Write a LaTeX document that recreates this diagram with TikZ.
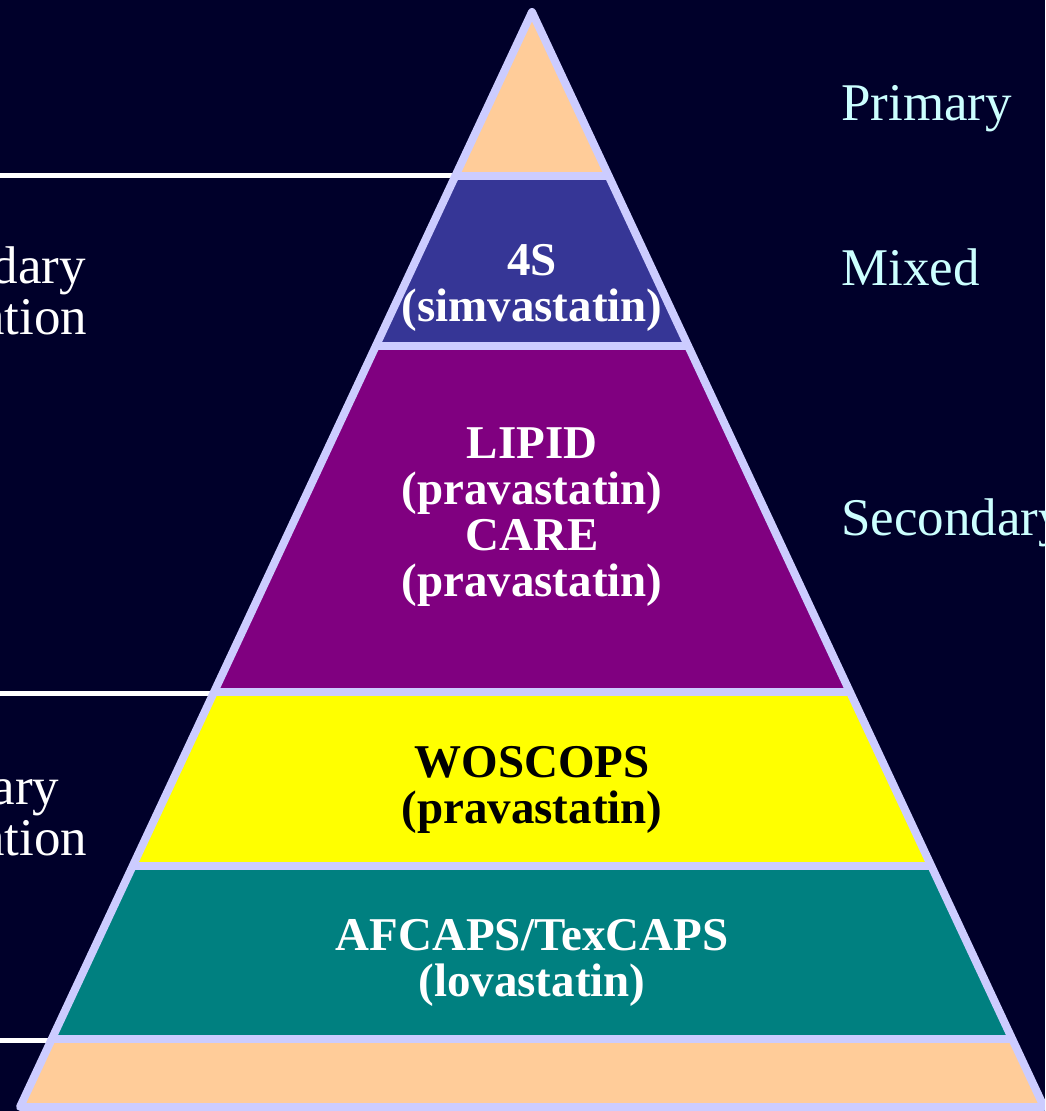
\documentclass[tikz,border=0pt]{standalone}
\usepackage{fontspec}
\setmainfont{Liberation Serif}
\usetikzlibrary{calc}
\definecolor{bg}{RGB}{0,0,42}
\definecolor{edge}{HTML}{CCCCFF}
\definecolor{peach}{HTML}{FFCC99}
\definecolor{navyband}{HTML}{363696}
\definecolor{purpleband}{HTML}{800080}
\definecolor{yellowband}{HTML}{FFFF00}
\definecolor{tealband}{HTML}{008080}
\definecolor{cyanlabel}{HTML}{CCFFFF}
\tikzset{
  layertext/.style={anchor=base, align=center, inner sep=0pt,
    font=\bfseries\fontsize{47}{46}\selectfont},
  sidelabel/.style={inner sep=0pt, font=\fontsize{53}{51}\selectfont},
  levelline/.style={draw=white, line width=5pt},
  separator/.style={draw=edge, line width=8pt},
}
\begin{document}
\begin{tikzpicture}[x=1pt, y=-1pt]
\useasboundingbox (0,0) rectangle (1045,1111);
\fill[bg] (0,0) rectangle (1045,1111);
\clip (0,0) rectangle (1045,1111);
\coordinate (origin) at (0,0);
\coordinate (apex) at (532,12);
\coordinate (bl) at (20,1107);
\coordinate (br) at (1044,1107);
% layers
\begin{scope}
  \clip (apex) -- (bl) -- (br) -- cycle;
  \fill[peach] (0,0) rectangle (1045,176);
  \fill[navyband] (0,176) rectangle (1045,346);
  \fill[purpleband] (0,346) rectangle (1045,692);
  \fill[yellowband] (0,692) rectangle (1045,866);
  \fill[tealband] (0,866) rectangle (1045,1039);
  \fill[peach] (0,1039) rectangle (1045,1111);
  \foreach \yy in {176,346,692,866,1039}
    \draw[separator] (0,\yy) -- (1045,\yy);
\end{scope}
% white level lines on the left
\coordinate (w1) at ($(apex)!0.1489!(bl)$);
\coordinate (w2) at ($(apex)!0.6228!(bl)$);
\coordinate (w3) at ($(apex)!0.9397!(bl)$);
\draw[levelline] (w1 -| origin) -- (w1);
\draw[levelline] (w2 -| origin) -- (w2);
\draw[levelline] (w3 -| origin) -- (w3);
% outline
\draw[edge, line width=8pt, line join=round] (apex) -- (bl) -- (br) -- cycle;
% layer texts (base anchor = baseline of the last line)
\node[layertext, text=white] (t4s) at (532,321) {4S\\(simvastatin)};
\node[layertext, text=white] (tlipid) at (532,596) {LIPID\\(pravastatin)\\CARE\\(pravastatin)};
\node[layertext, text=black] (twos) at (532,823) {WOSCOPS\\(pravastatin)};
\node[layertext, text=white] (tafc) at (532,996) {AFCAPS/TexCAPS\\(lovastatin)};
% right labels
\node[sidelabel, text=cyanlabel, anchor=base west] (lprim) at (841,120) {Primary};
\node[sidelabel, text=cyanlabel, anchor=base west] (lmix) at (841,285) {Mixed};
\node[sidelabel, text=cyanlabel, anchor=base west] (lsec) at (841,535) {Secondary};
% left labels
\node[sidelabel, text=white, align=center, anchor=base] (lsecprev) at (-26,334) {Secondary\\prevention};
\node[sidelabel, text=white, align=center, anchor=base] (lprimprev) at (-26,855) {Primary\\prevention};
\end{tikzpicture}
\end{document}
